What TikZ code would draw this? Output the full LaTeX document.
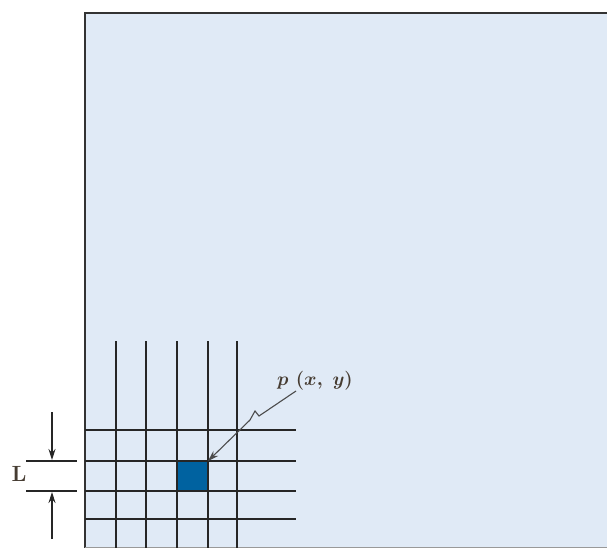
\RequirePackage{fix-cm}
\documentclass[tikz,border=0pt]{standalone}
\usepackage{amsmath}
\usetikzlibrary{arrows.meta}
\definecolor{plate}{RGB}{224,234,246}
\definecolor{cellblue}{RGB}{0,98,160}
\definecolor{labeldark}{RGB}{70,60,50}
\tikzset{
  grid_line/.style = {line width=1.4pt, black!85},% lignes du maillage
  dim_line/.style = {line width=1.2pt, black!85},% cote L
  dim_arrow/.style = {dim_line, -{Stealth[length=11pt, width=7pt]}},
  point_arrow/.style = {line width=1.1pt, black!70,
    -{Stealth[length=11pt, width=7pt]}},% fleche vers p(x,y)
  label_node/.style = {inner sep=0pt, text=labeldark}
}

\begin{document}
\begin{tikzpicture}[x=1pt, y=-1pt]
  \useasboundingbox (0,0) rectangle (607,548);
  % plaque
  \fill[plate] (85,13) rectangle (607,548);
  \draw[line width=1.6pt, black!80] (607,13) -- (85,13) -- (85,548);
  \draw[line width=0.8pt, black!40] (85,547) -- (607,547);
  % cellule
  \fill[cellblue] (177,461) rectangle (208,491);
  \coordinate (cell_corner) at (208,461);
  % maillage
  \foreach \x in {116,146,177,208,237}
    \draw[grid_line] (\x,341) -- (\x,548);
  \foreach \y in {430,461,491,519}
    \draw[grid_line] (85,\y) -- (296,\y);
  % etiquette p(x,y)
  \node[label_node, font=\fontsize{19}{22}\selectfont\boldmath] (pxy)
    at (315,381) {$p\,\,(x,\;y)$};
  \draw[point_arrow] (296,391) -- ++(-37,25) -- ++(-4,-5) -- ++(-5,9)
    -- (cell_corner);
  % cote L
  \coordinate (dim_top_l) at (26,461);
  \coordinate (dim_top_r) at (77,461);
  \coordinate (dim_bot_l) at (26,491);
  \coordinate (dim_bot_r) at (77,491);
  \coordinate (arrow_top) at (52,412);
  \coordinate (arrow_bot) at (52,539);
  \draw[dim_line] (dim_top_l) -- (dim_top_r);
  \draw[dim_line] (dim_bot_l) -- (dim_bot_r);
  \draw[dim_arrow] (arrow_top) -- (52,460);
  \draw[dim_arrow] (arrow_bot) -- (52,492);
  \node[label_node, font=\fontsize{22}{24}\selectfont\bfseries] (len)
    at (19,474) {L};
\end{tikzpicture}
\end{document}
